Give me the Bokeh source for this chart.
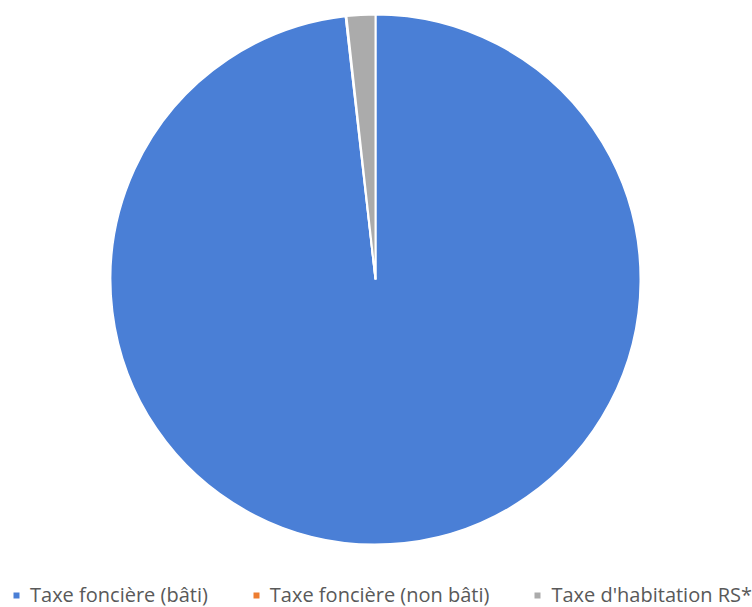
import math
from bokeh.plotting import figure
from bokeh.models import Range1d, Legend, LegendItem, ColumnDataSource
from bokeh.embed import file_html
from bokeh.resources import INLINE

categories = ["Taxe foncière (bâti)", "Taxe foncière (non bâti)", "Taxe d'habitation RS*"]
shares = [98.2, 0.05, 1.75]
colors = ["#4a7fd6", "#ed7d31", "#ababab"]

W, H = 752, 607
p = figure(width=W, height=H, output_backend="svg", toolbar_location=None,
           x_range=Range1d(0, W), y_range=Range1d(0, H), min_border=0)
p.axis.visible = False
p.grid.visible = False
p.outline_line_color = None
p.background_fill_color = "white"

total = sum(shares)
starts, ends = [], []
cum = 0.0
for s in shares:
    starts.append(math.pi / 2 - cum / total * 2 * math.pi)
    cum += s
    ends.append(math.pi / 2 - cum / total * 2 * math.pi)

cx, cy, r = 375, H - 279, 265
items = []
for i, cat in enumerate(categories):
    src = ColumnDataSource(dict(x=[cx], y=[cy], sa=[starts[i]], ea=[ends[i]]))
    rr = p.wedge(x="x", y="y", radius=r, start_angle="sa", end_angle="ea",
                 direction="clock", fill_color=colors[i], line_color="white",
                 line_width=2, source=src)
    items.append(LegendItem(label=cat, renderers=[rr]))

legend = Legend(items=items, orientation="horizontal", location=(11, -1),
                label_text_font="Open Sans", label_text_font_size="20px",
                label_text_color="#595959", glyph_width=10, glyph_height=10,
                label_standoff=9, spacing=43, border_line_color=None,
                background_fill_alpha=0, padding=0, margin=0, label_height=20)
p.add_layout(legend, "center")

open("out.html", "w").write(file_html(p, INLINE))
